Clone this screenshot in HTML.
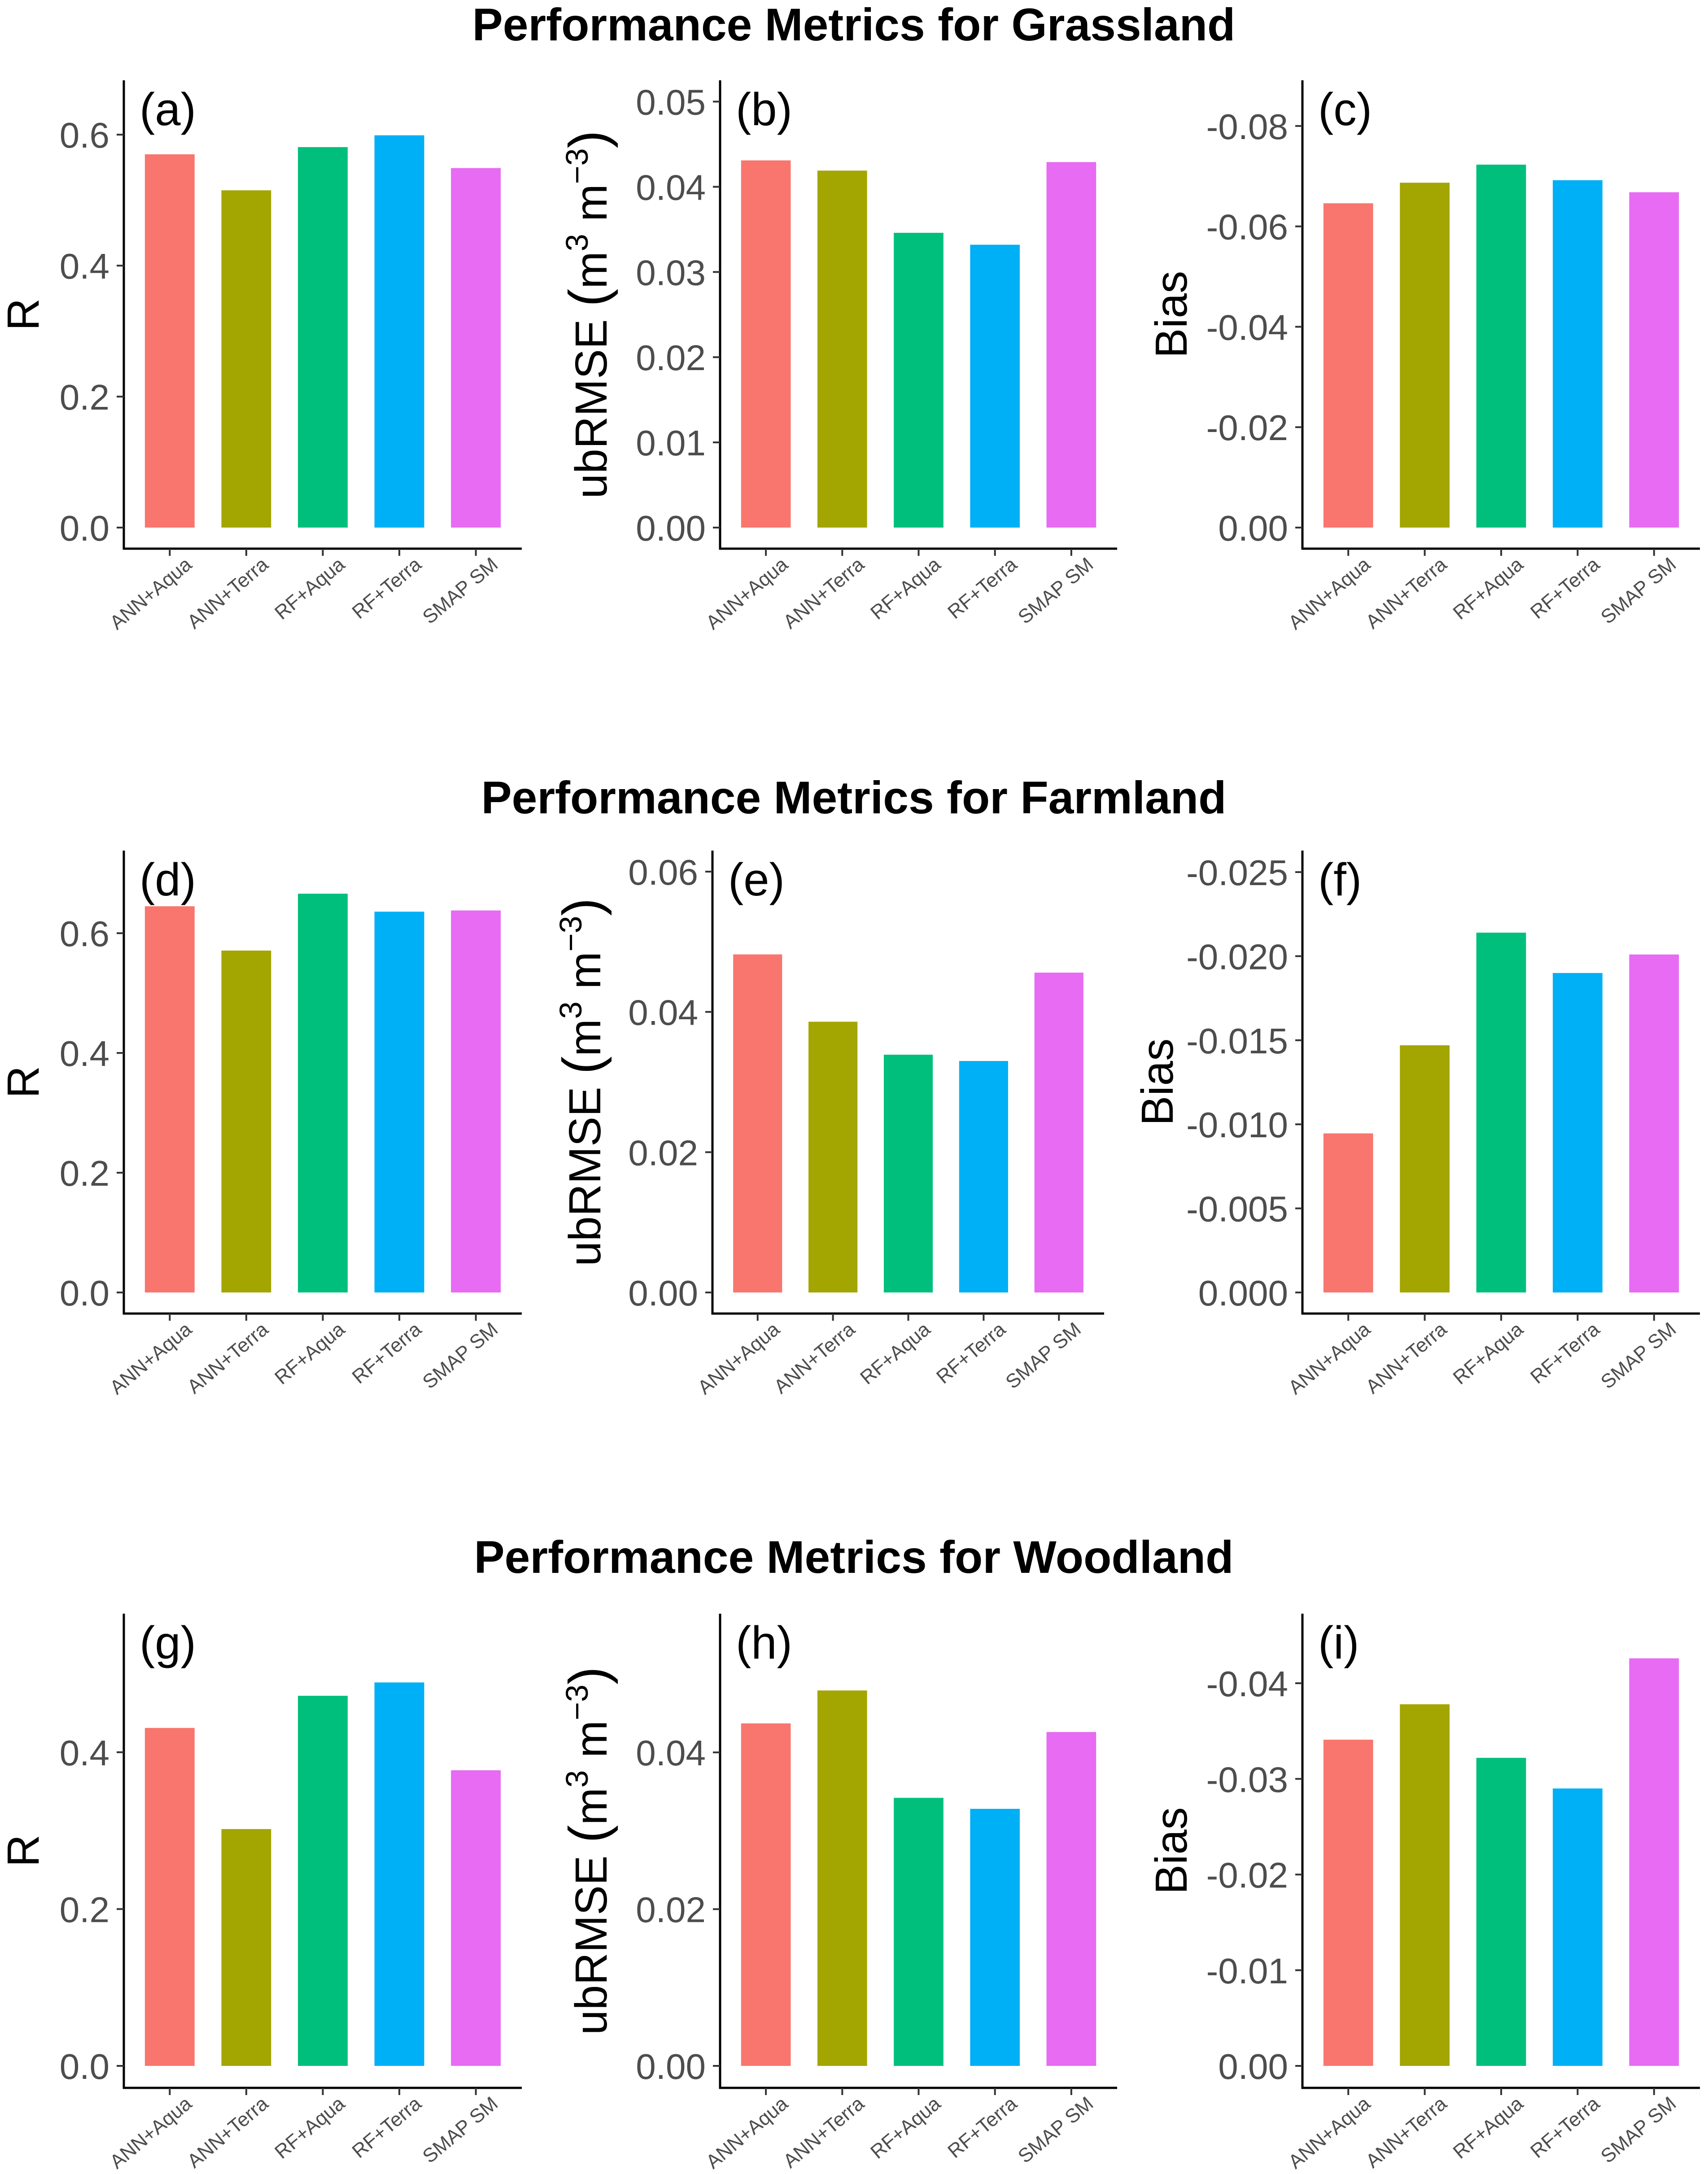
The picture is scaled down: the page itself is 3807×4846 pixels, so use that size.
<!DOCTYPE html>
<html><head><meta charset="utf-8">
<style>
html,body{margin:0;padding:0;background:#fff;}
svg{display:block;font-family:"Liberation Sans",Arial,sans-serif;}
</style></head>
<body>
<svg id="fig" width="3807" height="4846" viewBox="0 0 3807 4846" xmlns="http://www.w3.org/2000/svg">
<rect width="3807" height="4846" fill="#fff"/>
<text x="1903" y="90" font-size="102" font-weight="bold" text-anchor="middle">Performance Metrics for Grassland</text>
<text x="1903" y="1813" font-size="102" font-weight="bold" text-anchor="middle">Performance Metrics for Farmland</text>
<text x="1903" y="3506" font-size="102" font-weight="bold" text-anchor="middle">Performance Metrics for Woodland</text>
<g id="panels"></g>
</svg>
<script>
const categories = ["ANN+Aqua","ANN+Terra","RF+Aqua","RF+Terra","SMAP SM"];
const colors = ["#F8766D","#A3A500","#00BF7D","#00B0F6","#E76BF3"];

const valuesA = [0.570, 0.515, 0.581, 0.599, 0.549];
const valuesB = [0.0431, 0.0419, 0.0346, 0.0332, 0.0429];
const valuesC = [0.0646, 0.0687, 0.0723, 0.0692, 0.0668];
const valuesD = [0.645, 0.571, 0.666, 0.636, 0.638];
const valuesE = [0.0482, 0.0386, 0.0339, 0.0330, 0.0456];
const valuesF = [0.00946, 0.0147, 0.0214, 0.0190, 0.0201];
const valuesG = [0.431, 0.302, 0.472, 0.489, 0.377];
const valuesH = [0.0437, 0.0479, 0.0342, 0.0328, 0.0426];
const valuesI = [0.0341, 0.0378, 0.0322, 0.0290, 0.0426];

const ticksA = [0, 0.2, 0.4, 0.6];
const tickLabelsA = ["0.0","0.2","0.4","0.6"];
const ticksB = [0, 0.01, 0.02, 0.03, 0.04, 0.05];
const tickLabelsB = ["0.00","0.01","0.02","0.03","0.04","0.05"];
const ticksC = [0, 0.02, 0.04, 0.06, 0.08];
const tickLabelsC = ["0.00","-0.02","-0.04","-0.06","-0.08"];
const ticksD = [0, 0.2, 0.4, 0.6];
const tickLabelsD = ["0.0","0.2","0.4","0.6"];
const ticksE = [0, 0.02, 0.04, 0.06];
const tickLabelsE = ["0.00","0.02","0.04","0.06"];
const ticksF = [0, 0.005, 0.01, 0.015, 0.02, 0.025];
const tickLabelsF = ["0.000","-0.005","-0.010","-0.015","-0.020","-0.025"];
const ticksG = [0, 0.2, 0.4];
const tickLabelsG = ["0.0","0.2","0.4"];
const ticksH = [0, 0.02, 0.04];
const tickLabelsH = ["0.00","0.02","0.04"];
const ticksI = [0, 0.01, 0.02, 0.03, 0.04];
const tickLabelsI = ["0.00","-0.01","-0.02","-0.03","-0.04"];

const yMaxA = 0.683, yMaxB = 0.0525, yMaxC = 0.0891;
const yMaxD = 0.738, yMaxE = 0.0630, yMaxF = 0.02628;
const yMaxG = 0.5767, yMaxH = 0.0577, yMaxI = 0.04727;

const NS = "http://www.w3.org/2000/svg";
const root = document.getElementById("panels");
function mk(tag, attrs, parent){
  const e = document.createElementNS(NS, tag);
  for (const k in attrs) e.setAttribute(k, attrs[k]);
  (parent||root).appendChild(e);
  return e;
}

const rows = [
  {top:179, zero:1176, axisY:1223},
  {top:1896, zero:2881, axisY:2928},
  {top:3597, zero:4605, axisY:4654}
];
const cols = [
  {x0:276, x1:1163, titleX:52},
  {x0:1605, x1:2490, titleX:1318},
  {x0:2903, x1:3789, titleX:2611}
];

const panels = [
  {id:"a", r:0,c:0, vals:valuesA, ticks:ticksA, labs:tickLabelsA, ymax:yMaxA, title:"R"},
  {id:"b", r:0,c:1, vals:valuesB, ticks:ticksB, labs:tickLabelsB, ymax:yMaxB, title:"ub"},
  {id:"c", r:0,c:2, vals:valuesC, ticks:ticksC, labs:tickLabelsC, ymax:yMaxC, title:"Bias"},
  {id:"d", r:1,c:0, vals:valuesD, ticks:ticksD, labs:tickLabelsD, ymax:yMaxD, title:"R"},
  {id:"e", r:1,c:1, vals:valuesE, ticks:ticksE, labs:tickLabelsE, ymax:yMaxE, title:"ub", x0:1588, x1:2461, tX:1304},
  {id:"f", r:1,c:2, vals:valuesF, ticks:ticksF, labs:tickLabelsF, ymax:yMaxF, title:"Bias", tX:2580},
  {id:"g", r:2,c:0, vals:valuesG, ticks:ticksG, labs:tickLabelsG, ymax:yMaxG, title:"R"},
  {id:"h", r:2,c:1, vals:valuesH, ticks:ticksH, labs:tickLabelsH, ymax:yMaxH, title:"ub"},
  {id:"i", r:2,c:2, vals:valuesI, ticks:ticksI, labs:tickLabelsI, ymax:yMaxI, title:"Bias"}
];

panels.forEach(p => {
  const row = rows[p.r], col = cols[p.c];
  const x0 = p.x0 || col.x0, x1 = p.x1 || col.x1;
  const g = mk("g", {});
  
  
  const step = (x1 - x0) / 5.2;
  const xScale = i => x0 + (i + 0.6) * step;
  const yScale = v => row.zero - (v / p.ymax) * (row.zero - row.top);
  const bw = step * 0.65;

  p.vals.forEach((v, i) => {
    const y = yScale(v);
    const b = mk("rect", {x: xScale(i) - bw/2, y: y, width: bw, height: row.zero - y, fill: colors[i]}, g);
    
    
  });

  const ya = mk("line", {x1:x0, y1:row.top, x2:x0, y2:row.axisY+2, stroke:"#000", "stroke-width":5}, g);
  
  
  const xa = mk("line", {x1:x0-2, y1:row.axisY, x2:x1, y2:row.axisY, stroke:"#000", "stroke-width":5}, g);
  
  

  p.ticks.forEach((t, k) => {
    const y = yScale(t);
    mk("line", {x1:x0-16, y1:y, x2:x0, y2:y, stroke:"#333", "stroke-width":4}, g);
    const tl = mk("text", {x:x0-32, y:y+29, "font-size":80, fill:"#4d4d4d", "text-anchor":"end"}, g);
    tl.textContent = p.labs[k];
    
    
  });

  categories.forEach((c, i) => {
    const x = xScale(i);
    mk("line", {x1:x, y1:row.axisY, x2:x, y2:row.axisY+16, stroke:"#333", "stroke-width":4}, g);
    const ax = x + 52, ay = row.axisY + 40;
    const t = mk("text", {x:ax, y:ay, "font-size":44, fill:"#4d4d4d", "text-anchor":"end", transform:`rotate(-40 ${ax} ${ay})`}, g);
    t.textContent = c;
    
    
  });

  const lab = mk("text", {x:x0+35, y:row.top+100, "font-size":103, fill:"#000"}, g);
  lab.textContent = "(" + p.id + ")";
  
  

  const cy = (row.top + row.axisY) / 2;
  const tx = (p.tX || col.titleX) + 34;
  const yt = mk("text", {x:tx, y:cy, "font-size":100, fill:"#000", "text-anchor":"middle", transform:`rotate(-90 ${tx} ${cy})`}, g);
  
  
  if (p.title === "ub") {
    yt.appendChild(document.createTextNode("ubRMSE "));
    const s0 = mk("tspan", {"font-size":120}, yt); s0.textContent = "(";
    const m1 = mk("tspan", {}, yt); m1.textContent = "m";
    const s1 = mk("tspan", {dy:-42, "font-size":70}, yt); s1.textContent = "3";
    const s2 = mk("tspan", {dy:42}, yt); s2.textContent = " m";
    const s3 = mk("tspan", {dy:-42, "font-size":70}, yt); s3.textContent = "\u22123";
    const s4 = mk("tspan", {dy:42, "font-size":120}, yt); s4.textContent = ")";
  } else {
    yt.textContent = p.title;
  }
});
</script>
</body></html>
